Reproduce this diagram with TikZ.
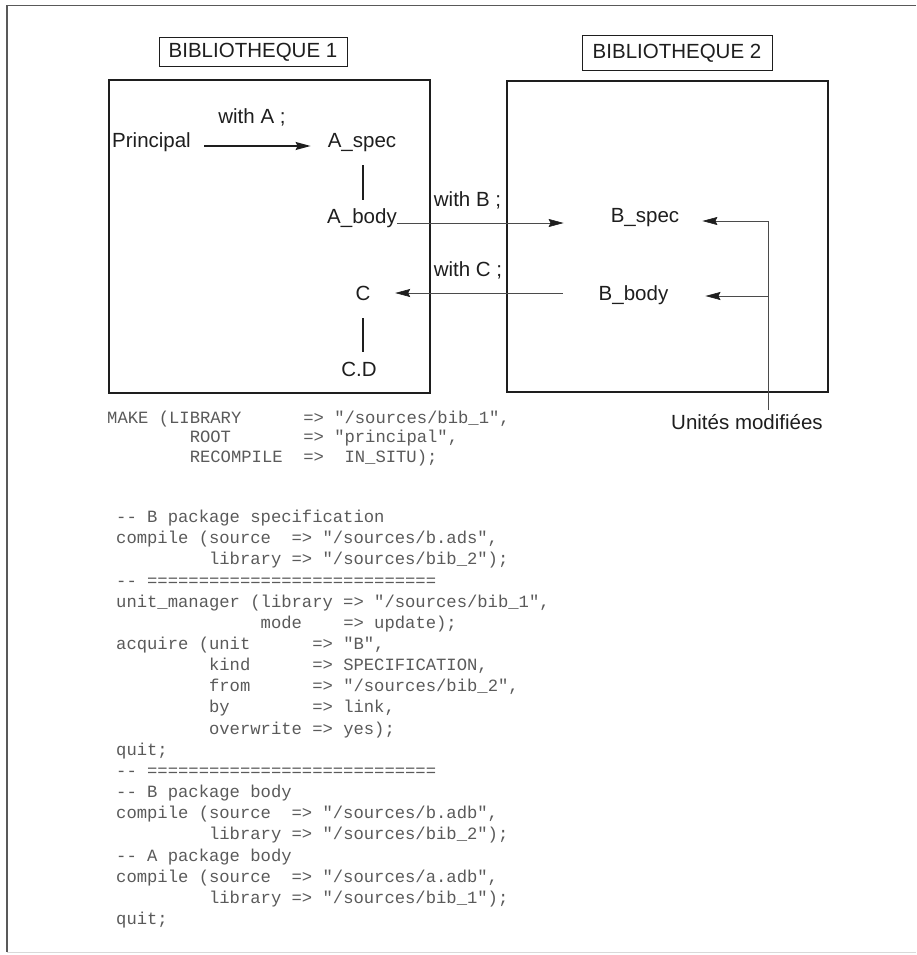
\documentclass[tikz,border=0pt]{standalone}
\usepackage{fontspec}
\setmainfont{Liberation Sans}
\setmonofont{Liberation Mono}
\usetikzlibrary{arrows.meta,calc}
\definecolor{ink}{HTML}{1E1E1E}
\definecolor{codegray}{HTML}{5A5A5A}
\begin{document}
\begin{tikzpicture}[x=1pt,y=-1pt,
  lbl/.style={inner sep=0pt, font=\fontsize{20.5}{24}\selectfont, text=ink},
  titlebox/.style={draw=ink, line width=1pt, inner sep=0pt, font=\fontsize{20.5}{24}\selectfont, text=ink},
  libbox/.style={draw=ink, line width=1.1pt, inner sep=0pt},
  link/.style={draw=ink, line width=1.2pt},
  thinlink/.style={draw=ink!80, line width=0.6pt},
  tip/.style={-{Stealth[length=15pt,width=8pt,inset=2pt,color=ink]}},
  frame/.style={draw=black!65, line width=1.8pt},
  codeln/.style={anchor=base west, inner sep=0pt, text=codegray, font=\ttfamily\fontsize{17.2}{20}\selectfont},
]
\useasboundingbox (0,0) rectangle (916,955);

% outer frame
\draw[frame] (916,5.5) -- (7,5.5) -- (7,952);
\draw[draw=black!15, line width=1pt] (7,952) -- (916,952);

% library titles and boxes
\node[titlebox, minimum width=188, minimum height=29] (t1) at (253,52.5) {BIBLIOTHEQUE 1};
\node[titlebox, minimum width=190, minimum height=35] (t2) at (677,53.5) {BIBLIOTHEQUE 2};
\node[libbox, minimum width=321, minimum height=313] (lib1) at (269.5,236.5) {};
\node[libbox, minimum width=321, minimum height=311] (lib2) at (667.5,236.5) {};

% units
\node[lbl] (withA) at (252,117) {with A ;};
\node[lbl, anchor=west] (princ) at (112,142) {Principal};
\node[lbl] (Aspec) at (362,143) {A\_spec};
\node[lbl] (Abody) at (362,218) {A\_body};
\node[lbl] (C) at (363,293) {C};
\node[lbl] (CD) at (359,369) {C.D};
\node[lbl] (withB) at (467.5,200) {with B ;};
\node[lbl] (withC) at (468,270) {with C ;};
\node[lbl] (Bspec) at (645,218) {B\_spec};
\node[lbl] (Bbody) at (633.5,295) {B\_body};
\node[lbl] (umod) at (747,422) {Unités modifiées};

% connectors
\draw[link, tip] ($(princ.east)+(13,4)$) -- ($(Aspec.west)+(-17,3)$);
\draw[link] ($(Aspec.center)+(1,22)$) -- ($(Abody.center)+(1,-18)$);
\draw[link] ($(C.center)+(0,25)$) -- ($(CD.center)+(4,-17)$);
\draw[thinlink, tip] ($(Abody.east)+(0,5)$) -- ($(Bspec.west)+(-47,5)$);
\draw[thinlink, tip] ($(Bbody.west)+(-36,-2)$) -- ($(C.east)+(24.6,0)$);
\coordinate (j1) at (768,221);
\coordinate (j2) at (768,296);
\draw[thinlink] ($(umod.north -| j1)+(0,-4)$) -- (j1);
\draw[thinlink, tip] (j1) -- ($(Bspec.east)+(23,3)$);
\draw[thinlink, tip] (j2) -- ($(Bbody.east)+(37,1)$);

% code block 1
\node[codeln] (c1) at (107,423) {MAKE~(LIBRARY~~~~~~=>~"/sources/bib\_1",};
\node[codeln] (c2) at (107,442.5) {~~~~~~~~ROOT~~~~~~~=>~"principal",};
\node[codeln] (c3) at (107,462) {~~~~~~~~RECOMPILE~~=>~~IN\_SITU);};

% code block 2
\node[codeln] (d1)  at (116,522.5) {--~B~package~specification};
\node[codeln] (d2)  at (116,543.7) {compile~(source~~=>~"/sources/b.ads",};
\node[codeln] (d3)  at (116,564.8) {~~~~~~~~~library~=>~"/sources/bib\_2");};
\node[codeln] (d4)  at (116,586.0) {--~============================};
\node[codeln] (d5)  at (116,607.1) {unit\_manager~(library~=>~"/sources/bib\_1",};
\node[codeln] (d6)  at (116,628.3) {~~~~~~~~~~~~~~mode~~~~=>~update);};
\node[codeln] (d7)  at (116,649.5) {acquire~(unit~~~~~~=>~"B",};
\node[codeln] (d8)  at (116,670.6) {~~~~~~~~~kind~~~~~~=>~SPECIFICATION,};
\node[codeln] (d9)  at (116,691.8) {~~~~~~~~~from~~~~~~=>~"/sources/bib\_2",};
\node[codeln] (d10) at (116,712.9) {~~~~~~~~~by~~~~~~~~=>~link,};
\node[codeln] (d11) at (116,734.1) {~~~~~~~~~overwrite~=>~yes);};
\node[codeln] (d12) at (116,755.3) {quit;};
\node[codeln] (d13) at (116,776.4) {--~============================};
\node[codeln] (d14) at (116,797.6) {--~B~package~body};
\node[codeln] (d15) at (116,818.7) {compile~(source~~=>~"/sources/b.adb",};
\node[codeln] (d16) at (116,839.9) {~~~~~~~~~library~=>~"/sources/bib\_2");};
\node[codeln] (d17) at (116,861.1) {--~A~package~body};
\node[codeln] (d18) at (116,882.2) {compile~(source~~=>~"/sources/a.adb",};
\node[codeln] (d19) at (116,903.4) {~~~~~~~~~library~=>~"/sources/bib\_1");};
\node[codeln] (d20) at (116,924.5) {quit;};
\end{tikzpicture}
\end{document}
